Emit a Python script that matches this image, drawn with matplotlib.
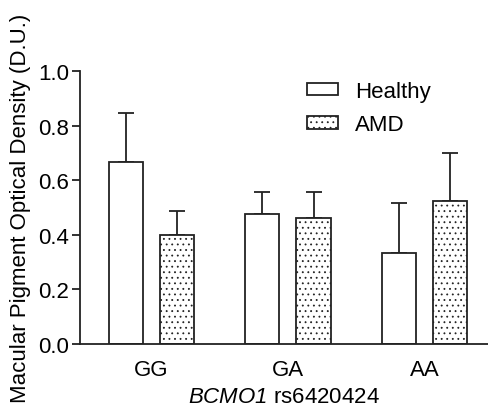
import matplotlib
matplotlib.use("Agg")
import matplotlib.pyplot as plt
import numpy as np

genotypes = ["GG", "GA", "AA"]
healthy_mean = [0.668, 0.478, 0.332]
healthy_err = [0.177, 0.079, 0.184]
amd_mean = [0.401, 0.461, 0.522]
amd_err = [0.086, 0.095, 0.177]

plt.rcParams["font.family"] = ["Liberation Sans", "DejaVu Sans"]
# gene name fully italic, digit included
plt.rcParams["mathtext.fontset"] = "custom"
plt.rcParams["mathtext.it"] = "Liberation Sans:italic"
plt.rcParams["mathtext.rm"] = "Liberation Sans:italic"
plt.rcParams["hatch.linewidth"] = 0.6
plt.rcParams["hatch.color"] = "#333333"

fs = 16
fig = plt.figure(figsize=(4.88, 4.10), dpi=100)
ax = fig.add_axes([80 / 488, 65 / 410, 408 / 488, 273 / 410])

x = np.arange(len(genotypes))
w = 0.25
off = 0.1875
lc = "#222222"

ax.bar(x - off, healthy_mean, w, color="white", edgecolor=lc, linewidth=1.3,
       label="Healthy", zorder=2)
ax.bar(x + off, amd_mean, w, color="white", edgecolor=lc, linewidth=1.3,
       hatch="...", label="AMD", zorder=2)

# upper error bars only
ax.errorbar(x - off, healthy_mean, yerr=[np.zeros(3), healthy_err], fmt="none",
            ecolor=lc, elinewidth=1.3, capsize=6, capthick=1.3, zorder=1)
ax.errorbar(x + off, amd_mean, yerr=[np.zeros(3), amd_err], fmt="none",
            ecolor=lc, elinewidth=1.3, capsize=6, capthick=1.3, zorder=1)

ax.set_xlim(-0.522, 2.465)
ax.set_ylim(0, 1.0)
ax.set_yticks([0.0, 0.2, 0.4, 0.6, 0.8, 1.0])
ax.set_yticklabels(["0.0", "0.2", "0.4", "0.6", "0.8", "1.0"])
ax.set_xticks(x)
ax.set_xticklabels(genotypes)

for s in ["top", "right"]:
    ax.spines[s].set_visible(False)
for s in ["left", "bottom"]:
    ax.spines[s].set_linewidth(1.3)
    ax.spines[s].set_color(lc)

ax.tick_params(axis="y", length=6, width=1.3, color=lc, labelsize=fs, pad=2)
ax.tick_params(axis="x", length=0, labelsize=fs, pad=11)

ax.set_ylabel("Macular Pigment Optical Density (D.U.)", fontsize=fs, labelpad=5)
ax.set_xlabel(r"$\mathit{BCMO1}$ rs6420424", fontsize=fs, labelpad=4)

ax.legend(loc="upper left", bbox_to_anchor=(307 / 488, 1 - 82 / 410),
          bbox_transform=fig.transFigure, frameon=False, borderpad=0,
          borderaxespad=0, fontsize=fs, handlelength=1.4, handleheight=0.5,
          handletextpad=0.75, labelspacing=0.55)

fig.savefig("out.png", dpi=100)
